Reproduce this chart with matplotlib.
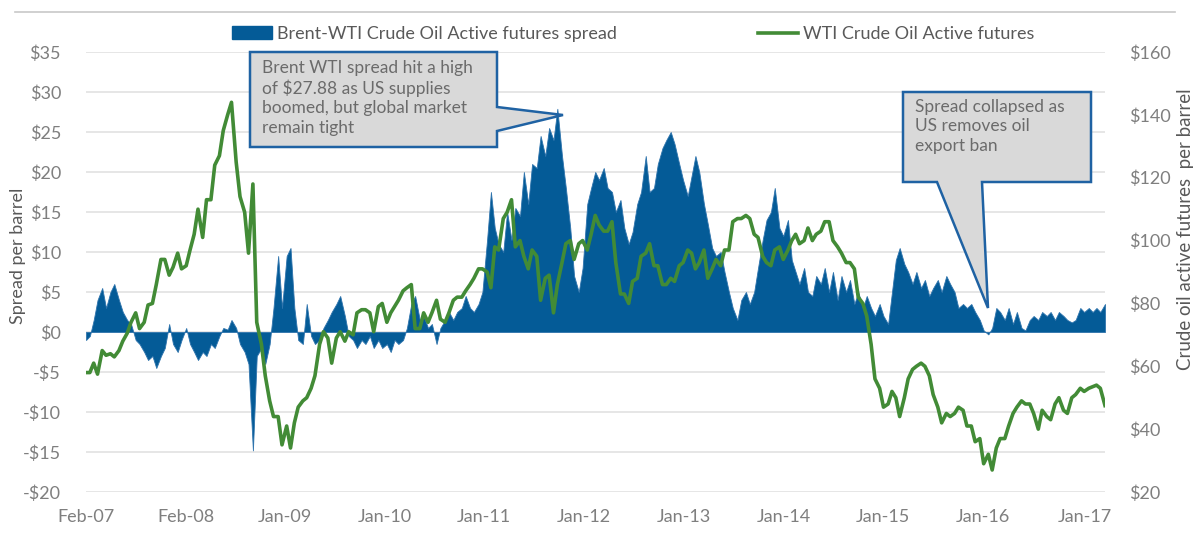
import numpy as np
import pandas as pd
import matplotlib
matplotlib.use("Agg")
import matplotlib.pyplot as plt
from matplotlib.patches import Patch, Polygon
from matplotlib.lines import Line2D

plt.rcParams['font.family'] = ['Lato', 'DejaVu Sans']

# semi-monthly sampling, Feb 2007 .. Apr 2017
dates = pd.date_range('2007-02-01', '2017-04-01', freq='SMS')

# Brent - WTI spread ($/bbl)
spread = [
    -1.0, -0.5, 1.5, 4.0, 5.5, 3.0, 5.0, 6.0, 4.0, 2.5, 1.5, 1.0, -1.0, -1.5, -2.5, -3.5, -3.0, -4.5, -3.0, -2.0, 1.0, -1.5,  # 2007
    -2.5, -1.0, 0.5, -1.5, -2.5, -3.5, -2.5, -3.0, -1.5, -2.0, -0.5, 0.5, 0.3, 1.5, 0.5, -1.5, -2.5, -4.0, -14.8, -3.0, -2.0, -4.0, -1.5, 3.0,  # 2008
    9.5, 3.0, 9.5, 10.5, 3.0, -1.0, -1.5, 3.5, -0.5, -1.5, -1.0, 0.5, 1.5, 2.5, 3.5, 4.5, 2.0, -0.5, -1.0, -2.0, -1.0, -1.5, -0.5, -2.0,  # 2009
    -1.0, -2.0, -1.5, -2.5, -1.0, -1.5, -1.0, 0.5, 3.5, 4.5, 1.5, 2.0, 0.5, 1.0, -1.5, 0.5, 1.5, 2.5, 1.5, 2.5, 3.0, 4.5, 3.0, 2.5,  # 2010
    3.5, 5.0, 11.5, 17.5, 13.0, 11.0, 10.0, 15.0, 11.5, 15.5, 14.5, 20.0, 16.0, 21.0, 20.5, 24.5, 22.0, 25.5, 24.0, 27.9, 22.0, 18.0, 13.0, 7.0,  # 2011
    5.0, 8.0, 16.0, 18.0, 20.0, 19.0, 20.5, 18.0, 17.5, 15.0, 16.5, 13.0, 11.0, 12.5, 16.0, 17.5, 22.0, 17.5, 18.0, 21.0, 23.0, 24.0, 25.0, 23.5,  # 2012
    21.0, 19.0, 17.0, 19.5, 22.0, 20.0, 16.0, 13.5, 10.5, 9.5, 10.0, 7.5, 5.0, 3.0, 1.5, 4.0, 5.0, 3.5, 5.0, 8.0, 11.5, 14.0, 15.0, 18.0,  # 2013
    13.0, 12.0, 14.0, 9.0, 7.5, 6.0, 8.0, 5.0, 4.5, 7.0, 6.0, 8.0, 5.0, 7.5, 4.0, 7.0, 5.0, 6.5, 3.5, 5.0, 3.0, 4.5, 3.0, 2.0,  # 2014
    3.5, 2.0, 1.0, 5.0, 9.0, 10.5, 8.5, 7.5, 6.0, 7.5, 5.5, 6.5, 4.5, 5.5, 6.5, 5.0, 7.0, 6.0, 5.0, 3.0, 3.5, 3.0, 3.5, 2.5,  # 2015
    1.5, 0.2, -0.3, 0.5, 3.0, 2.5, 1.5, 3.0, 1.0, 2.5, 0.5, 0.2, 1.5, 2.0, 1.5, 2.5, 2.0, 2.5, 1.5, 2.5, 2.0, 1.5, 1.2, 1.5,  # 2016
    3.0, 2.5, 3.0, 2.5, 3.0, 2.5, 3.5,  # 2017
]

# WTI crude oil active futures ($/bbl)
wti = [
    58, 58, 61, 57.5, 65, 63.5, 64, 63, 65, 68, 70.5, 74, 77, 72, 74, 79.5, 80, 86, 94, 94, 89, 91.5,  # 2007
    96, 91, 92, 97, 102, 110, 101, 113, 113, 124, 127, 135, 140, 144, 125, 114, 109, 96, 118, 74, 67, 57, 49, 44,  # 2008
    44, 35, 41, 34, 42, 47, 49, 50, 53, 57, 67, 71, 69, 61, 69, 71, 68, 71, 70, 77, 78, 78, 77, 71,  # 2009
    79, 80, 74, 77, 79, 81, 84, 85, 86, 72, 72, 77, 74, 77, 81, 75, 74, 77, 81, 82, 82, 84, 86, 88,  # 2010
    91, 91, 90, 85, 98, 97, 107, 109, 113, 98, 100, 95, 91, 97, 95, 81, 88, 89, 77, 86, 93, 99, 100, 94,  # 2011
    99, 100, 97, 102, 108, 105, 103, 103, 106, 93, 83, 83, 80, 87, 88, 95, 96, 99, 92, 92, 86, 86, 88, 87,  # 2012
    92, 93, 97, 96, 91, 93, 97, 88, 91, 94, 92, 97, 97, 106, 107, 107, 108, 107, 102, 101, 95, 93, 92, 97,  # 2013
    98, 94, 97, 100, 102, 99, 100, 104, 100, 102, 103, 106, 106, 100, 98, 96, 93, 93, 91, 82, 80, 76, 67, 56,  # 2014
    53, 47, 48, 52, 50, 44, 50, 56, 59, 60, 61, 60, 57, 51, 47, 42, 45, 44, 45, 47, 46, 41, 41, 36,  # 2015
    37, 29, 32, 27, 34, 37, 37, 41, 45, 47, 49, 48, 48, 45, 40, 46, 44, 43, 48, 50, 46, 45, 50, 51,  # 2016
    53, 52, 53, 53.5, 54, 53, 47.5,  # 2017
]

tick_dates = ['2007-02-01', '2008-01-31', '2009-01-26', '2010-01-25', '2011-01-21', '2012-01-20',
              '2013-01-19', '2014-01-18', '2015-01-14', '2016-01-13', '2017-01-16']
tick_labels = ['Feb-07', 'Feb-08', 'Jan-09', 'Jan-10', 'Jan-11', 'Jan-12',
               'Jan-13', 'Jan-14', 'Jan-15', 'Jan-16', 'Jan-17']
spread_ticks = np.arange(-20, 40, 5)
wti_ticks = np.arange(20, 180, 20)

BLUE = '#045b97'
GREEN = '#428b36'
GRAY = '#7f7f7f'
W, H = 1200, 545

def fx(px):
    return px / W

def fy(py):
    return 1 - py / H

fig = plt.figure(figsize=(12, 5.45), dpi=100)
ax = fig.add_axes([fx(86), fy(492), (1105 - 86) / W, 440 / H])
ax2 = ax.twinx()

# spread area
ax.fill_between(dates, 0, spread, color=BLUE, lw=0.6, edgecolor='#2f74ad')
ax.set_ylim(-20, 35)
ax.set_yticks(spread_ticks)
ax.set_yticklabels([('-$%d' % -v) if v < 0 else ('$%d' % v) for v in spread_ticks])
ax.yaxis.grid(True, color='#e4e4e4', lw=1.3)
ax.set_axisbelow(True)

ax.set_xlim(dates[0], dates[-1])
ax.set_xticks(pd.to_datetime(tick_dates))
ax.set_xticklabels(tick_labels)

# WTI line
ax2.plot(dates, wti, color=GREEN, lw=2.6)
ax2.set_ylim(20, 160)
ax2.set_yticks(wti_ticks)
ax2.set_yticklabels(['$%d' % v for v in wti_ticks])

for a in (ax, ax2):
    for s in a.spines.values():
        s.set_visible(False)
    a.tick_params(length=0, labelsize=13, labelcolor=GRAY)
ax.tick_params(axis='y', pad=18)
ax.tick_params(axis='x', pad=12)
ax2.tick_params(axis='y', pad=17)

fig.text(fx(18), fy(256), 'Spread per barrel', rotation=90, ha='center', va='center',
         fontsize=13, color='#595959')
fig.text(fx(1185), fy(229), 'Crude oil active futures  per barrel', rotation=90,
         ha='center', va='center', fontsize=13.5, color='#595959')

# top rule
fig.add_artist(Line2D([fx(15), fx(1175)], [fy(12), fy(12)], color='#c8c8c8', lw=1.2))

# legend
handles = [Patch(color=BLUE, label='Brent-WTI Crude Oil Active futures spread'),
           Line2D([], [], color=GREEN, lw=2.6, label='WTI Crude Oil Active futures')]
fig.legend(handles=handles, loc='center left', bbox_to_anchor=(fx(232), fy(34)), ncol=2,
           frameon=False, fontsize=13, labelcolor='#595959', handlelength=2.2,
           handletextpad=0.3, columnspacing=7.8, borderpad=0, borderaxespad=0)

# callouts
def callout(pts, text, tx, ty):
    poly = Polygon([(fx(x), fy(y)) for x, y in pts], closed=True, facecolor='#d9d9d9',
                   edgecolor='#1f62a3', lw=1.8, transform=fig.transFigure, zorder=5)
    fig.add_artist(poly)
    fig.text(fx(tx), fy(ty), text, ha='left', va='top', fontsize=12.5, color='#6b6b6b',
             linespacing=1.25, zorder=6)

callout([(250, 52), (497, 52), (497, 107), (563, 115), (497, 131), (497, 147), (250, 147)],
        'Brent WTI spread hit a high\nof $27.88 as US supplies\nboomed, but global market\nremain tight',
        262, 60)
callout([(903, 92), (1091, 92), (1091, 182), (982, 182), (988, 308), (937, 182), (903, 182)],
        'Spread collapsed as\nUS removes oil\nexport ban', 915, 99)

fig.savefig('out.png', dpi=100)
